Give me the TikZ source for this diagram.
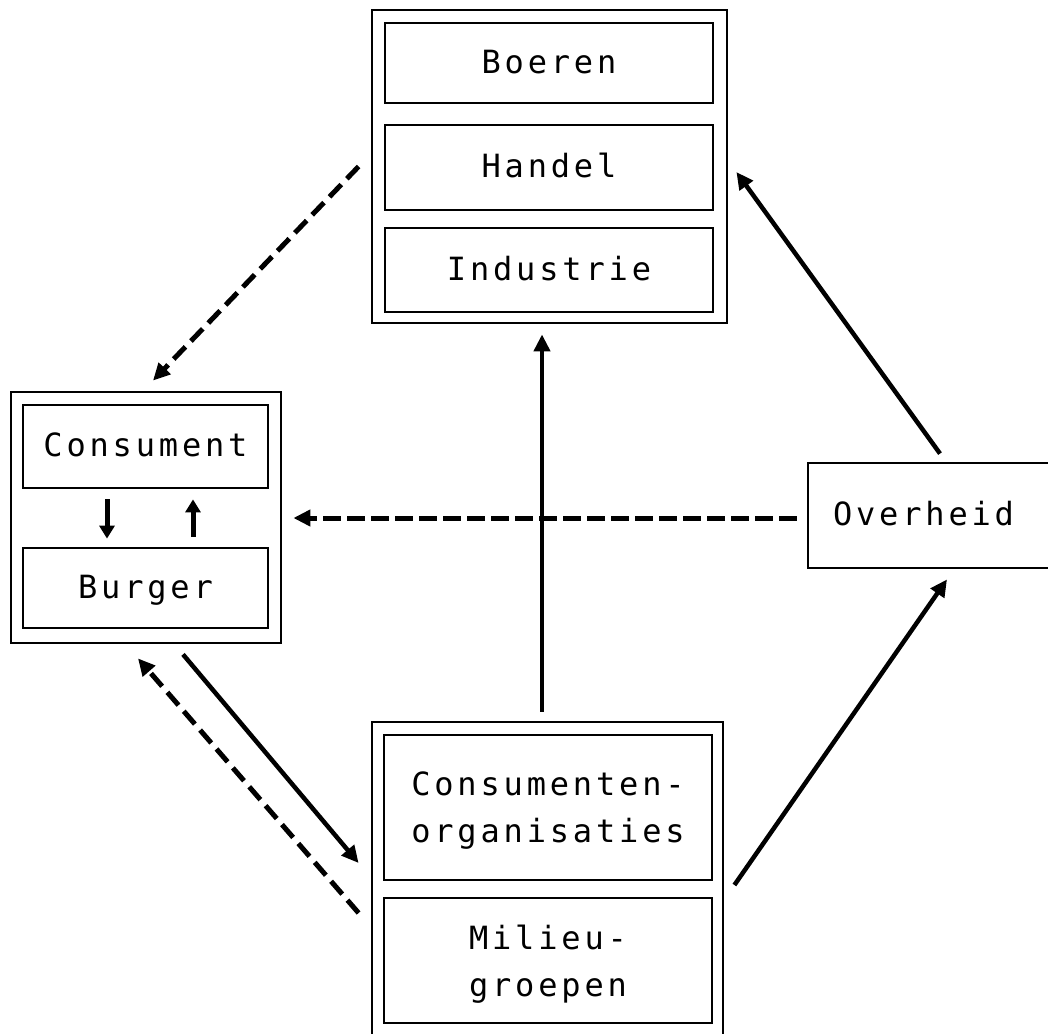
\documentclass[tikz,border=0pt]{standalone}
\usepackage{fontspec}
\newfontfamily\plotfont{DejaVu Sans Mono}[LetterSpace=12]
\usetikzlibrary{arrows.meta}
\begin{document}
\begin{tikzpicture}[x=1pt,y=-1pt,
  box/.style={draw, line width=2.8pt, inner sep=0pt,
    font=\plotfont\fontsize{32}{47}\selectfont, align=center},
  one/.style={text height=23pt, text depth=3pt},
  two/.style={text depth=0pt},
  conn/.style={line width=4.5pt, -{Triangle[length=17pt,width=16pt]}},
  dconn/.style={conn, line width=5pt, dash pattern=on 17pt off 8pt},
  hconn/.style={conn, line width=5pt, dash pattern=on 18pt off 6pt},
  small/.style={line width=5pt, -{Triangle[length=13pt,width=15pt]}}]
\path[use as bounding box] (0,0) rectangle (1048,1033);
\fill[white] (0,0) rectangle (1048,1033);
\clip (0,0) rectangle (1048,1033);
% top group
\node[box, minimum width=355pt, minimum height=313pt] (top) at (549.5,166.5) {};
\node[box, one, minimum width=328pt, minimum height=80pt] (boeren) at (549,63) {Boeren};
\node[box, one, minimum width=328pt, minimum height=85pt] (handel) at (549,167.5) {Handel};
\node[box, one, minimum width=328pt, minimum height=84pt] (industrie) at (549,270) {Industrie};
% left group
\node[box, minimum width=270pt, minimum height=251pt] (left) at (146,517.5) {};
\node[box, one, minimum width=245pt, minimum height=83pt] (cons) at (145.5,446.5) {Consument};
\node[box, one, minimum width=245pt, minimum height=80pt] (burger) at (145.5,588) {Burger};
% bottom group
\node[box, minimum width=351pt, minimum height=328pt] (bottom) at (547.5,886) {};
\node[box, two, minimum width=328pt, minimum height=145pt] (corg) at (548,807.5) {Consumenten-\\organisaties};
\node[box, two, minimum width=328pt, minimum height=125pt] (milieu) at (548,960.5) {Milieu-\\groepen};
% government
\node[box, one, minimum width=262pt, minimum height=105pt, text width=212pt, inner xsep=25pt, align=left] (ovh) at (939,515.5) {Overheid};
% connectors
\draw[dconn] ([xshift=-12pt]top.west) -- ([xshift=7pt,yshift=10pt]left.north);
\draw[hconn] ([xshift=-10pt,yshift=-2.5pt]ovh.west) -- ([xshift=11pt,yshift=-0.5pt]left.east);
\draw[conn] ([xshift=-5.5pt,yshift=9pt]bottom.north) -- ([xshift=-7.5pt,yshift=-10pt]top.south);
\draw[conn] ([xshift=1pt,yshift=8pt]ovh.north) -- ([xshift=8pt,yshift=-5.5pt]top.east);
\draw[conn] ([xshift=10pt,yshift=1pt]bottom.east) -- ([xshift=8pt,yshift=-10pt]ovh.south);
\draw[conn] ([xshift=37pt,yshift=-10pt]left.south) -- ([xshift=-12pt,yshift=23pt]bottom.west);
\draw[dconn] ([xshift=-12pt,yshift=-27pt]bottom.west) -- ([xshift=-8pt,yshift=-14pt]left.south);
\draw[small] ([xshift=-38.5pt,yshift=-10pt]cons.south) -- ([xshift=-38.5pt,yshift=8pt]burger.north);
\draw[small] ([xshift=47.5pt,yshift=10pt]burger.north) -- ([xshift=47.5pt,yshift=-10pt]cons.south);
\end{tikzpicture}
\end{document}
